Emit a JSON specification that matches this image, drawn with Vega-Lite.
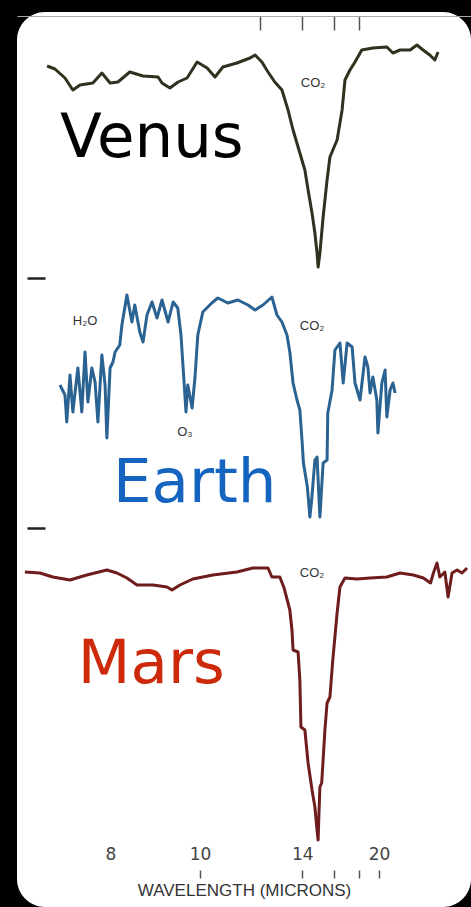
{
  "$schema": "https://vega.github.io/schema/vega-lite/v6.json",
  "width": 454,
  "height": 895,
  "autosize": "none",
  "padding": {"left": 17, "top": 12, "right": 0, "bottom": 0},
  "background": "black",
  "config": {"view": {"fill": "white", "cornerRadius": 28, "stroke": null}},
  "datasets": {
    "spectra": [
      {"planet":"Venus","wn":1427,"v":841},{"planet":"Venus","wn":1405,"v":838},{"planet":"Venus","wn":1377,"v":829},{"planet":"Venus","wn":1355,"v":817},{"planet":"Venus","wn":1335,"v":822},{"planet":"Venus","wn":1299,"v":824},{"planet":"Venus","wn":1274,"v":834},{"planet":"Venus","wn":1251,"v":824},{"planet":"Venus","wn":1229,"v":825},{"planet":"Venus","wn":1196,"v":835},{"planet":"Venus","wn":1159,"v":831},{"planet":"Venus","wn":1117,"v":830},{"planet":"Venus","wn":1106,"v":824},{"planet":"Venus","wn":1084,"v":819},{"planet":"Venus","wn":1061,"v":825},{"planet":"Venus","wn":1036,"v":829},{"planet":"Venus","wn":1008,"v":845},{"planet":"Venus","wn":980,"v":839},{"planet":"Venus","wn":958,"v":830},{"planet":"Venus","wn":936,"v":840},{"planet":"Venus","wn":897,"v":844},{"planet":"Venus","wn":860,"v":849},{"planet":"Venus","wn":846,"v":852},{"planet":"Venus","wn":827,"v":845},{"planet":"Venus","wn":810,"v":835},{"planet":"Venus","wn":791,"v":825},{"planet":"Venus","wn":771,"v":817},{"planet":"Venus","wn":754,"v":797},{"planet":"Venus","wn":740,"v":777},{"planet":"Venus","wn":721,"v":754},{"planet":"Venus","wn":707,"v":737},{"planet":"Venus","wn":698,"v":717},{"planet":"Venus","wn":687,"v":694},{"planet":"Venus","wn":679,"v":674},{"planet":"Venus","wn":673,"v":654},{"planet":"Venus","wn":670,"v":640},{"planet":"Venus","wn":665,"v":654},{"planet":"Venus","wn":656,"v":690},{"planet":"Venus","wn":645,"v":727},{"planet":"Venus","wn":637,"v":750},{"planet":"Venus","wn":617,"v":767},{"planet":"Venus","wn":603,"v":797},{"planet":"Venus","wn":595,"v":827},{"planet":"Venus","wn":581,"v":837},{"planet":"Venus","wn":567,"v":845},{"planet":"Venus","wn":548,"v":857},{"planet":"Venus","wn":517,"v":859},{"planet":"Venus","wn":478,"v":860},{"planet":"Venus","wn":461,"v":854},{"planet":"Venus","wn":441,"v":857},{"planet":"Venus","wn":413,"v":857},{"planet":"Venus","wn":394,"v":862},{"planet":"Venus","wn":377,"v":857},{"planet":"Venus","wn":358,"v":852},{"planet":"Venus","wn":344,"v":847},{"planet":"Venus","wn":335,"v":855},
      {"planet":"Earth","wn":1391,"v":522},{"planet":"Earth","wn":1377,"v":512},{"planet":"Earth","wn":1372,"v":485},{"planet":"Earth","wn":1363,"v":532},{"planet":"Earth","wn":1355,"v":495},{"planet":"Earth","wn":1341,"v":539},{"planet":"Earth","wn":1330,"v":495},{"planet":"Earth","wn":1321,"v":555},{"planet":"Earth","wn":1313,"v":505},{"planet":"Earth","wn":1302,"v":539},{"planet":"Earth","wn":1293,"v":525},{"planet":"Earth","wn":1285,"v":485},{"planet":"Earth","wn":1274,"v":552},{"planet":"Earth","wn":1265,"v":522},{"planet":"Earth","wn":1260,"v":469},{"planet":"Earth","wn":1251,"v":539},{"planet":"Earth","wn":1243,"v":545},{"planet":"Earth","wn":1237,"v":555},{"planet":"Earth","wn":1224,"v":562},{"planet":"Earth","wn":1218,"v":582},{"planet":"Earth","wn":1204,"v":612},{"planet":"Earth","wn":1190,"v":585},{"planet":"Earth","wn":1182,"v":602},{"planet":"Earth","wn":1168,"v":575},{"planet":"Earth","wn":1159,"v":565},{"planet":"Earth","wn":1148,"v":592},{"planet":"Earth","wn":1134,"v":605},{"planet":"Earth","wn":1120,"v":589},{"planet":"Earth","wn":1106,"v":607},{"planet":"Earth","wn":1089,"v":585},{"planet":"Earth","wn":1075,"v":605},{"planet":"Earth","wn":1062,"v":599},{"planet":"Earth","wn":1053,"v":572},{"planet":"Earth","wn":1047,"v":539},{"planet":"Earth","wn":1039,"v":495},{"planet":"Earth","wn":1034,"v":522},{"planet":"Earth","wn":1022,"v":499},{"planet":"Earth","wn":1014,"v":529},{"planet":"Earth","wn":1006,"v":572},{"planet":"Earth","wn":992,"v":595},{"planet":"Earth","wn":967,"v":604},{"planet":"Earth","wn":950,"v":609},{"planet":"Earth","wn":922,"v":604},{"planet":"Earth","wn":894,"v":607},{"planet":"Earth","wn":866,"v":602},{"planet":"Earth","wn":846,"v":597},{"planet":"Earth","wn":824,"v":602},{"planet":"Earth","wn":799,"v":610},{"planet":"Earth","wn":785,"v":592},{"planet":"Earth","wn":771,"v":585},{"planet":"Earth","wn":757,"v":572},{"planet":"Earth","wn":749,"v":555},{"planet":"Earth","wn":740,"v":524},{"planet":"Earth","wn":729,"v":507},{"planet":"Earth","wn":721,"v":497},{"planet":"Earth","wn":715,"v":467},{"planet":"Earth","wn":711,"v":444},{"planet":"Earth","wn":700,"v":420},{"planet":"Earth","wn":693,"v":390},{"planet":"Earth","wn":688,"v":407},{"planet":"Earth","wn":679,"v":447},{"planet":"Earth","wn":673,"v":450},{"planet":"Earth","wn":665,"v":390},{"planet":"Earth","wn":656,"v":444},{"planet":"Earth","wn":645,"v":447},{"planet":"Earth","wn":643,"v":494},{"planet":"Earth","wn":631,"v":517},{"planet":"Earth","wn":623,"v":557},{"planet":"Earth","wn":609,"v":564},{"planet":"Earth","wn":600,"v":524},{"planet":"Earth","wn":589,"v":564},{"planet":"Earth","wn":575,"v":560},{"planet":"Earth","wn":567,"v":524},{"planet":"Earth","wn":553,"v":507},{"planet":"Earth","wn":539,"v":550},{"planet":"Earth","wn":531,"v":540},{"planet":"Earth","wn":525,"v":514},{"planet":"Earth","wn":517,"v":530},{"planet":"Earth","wn":506,"v":507},{"planet":"Earth","wn":503,"v":474},{"planet":"Earth","wn":492,"v":524},{"planet":"Earth","wn":483,"v":537},{"planet":"Earth","wn":478,"v":490},{"planet":"Earth","wn":469,"v":517},{"planet":"Earth","wn":461,"v":524},{"planet":"Earth","wn":455,"v":514},
      {"planet":"Mars","wn":1489,"v":335},{"planet":"Mars","wn":1447,"v":334},{"planet":"Mars","wn":1411,"v":330},{"planet":"Mars","wn":1363,"v":327},{"planet":"Mars","wn":1316,"v":332},{"planet":"Mars","wn":1260,"v":337},{"planet":"Mars","wn":1232,"v":334},{"planet":"Mars","wn":1204,"v":329},{"planet":"Mars","wn":1176,"v":322},{"planet":"Mars","wn":1131,"v":322},{"planet":"Mars","wn":1092,"v":320},{"planet":"Mars","wn":1078,"v":317},{"planet":"Mars","wn":1056,"v":322},{"planet":"Mars","wn":1020,"v":328},{"planet":"Mars","wn":964,"v":332},{"planet":"Mars","wn":897,"v":335},{"planet":"Mars","wn":852,"v":339},{"planet":"Mars","wn":810,"v":339},{"planet":"Mars","wn":799,"v":330},{"planet":"Mars","wn":777,"v":330},{"planet":"Mars","wn":765,"v":319},{"planet":"Mars","wn":749,"v":297},{"planet":"Mars","wn":743,"v":277},{"planet":"Mars","wn":740,"v":257},{"planet":"Mars","wn":726,"v":255},{"planet":"Mars","wn":721,"v":227},{"planet":"Mars","wn":718,"v":180},{"planet":"Mars","wn":707,"v":177},{"planet":"Mars","wn":698,"v":144},{"planet":"Mars","wn":687,"v":117},{"planet":"Mars","wn":679,"v":100},{"planet":"Mars","wn":673,"v":77},{"planet":"Mars","wn":670,"v":67},{"planet":"Mars","wn":668,"v":90},{"planet":"Mars","wn":665,"v":120},{"planet":"Mars","wn":660,"v":124},{"planet":"Mars","wn":651,"v":177},{"planet":"Mars","wn":645,"v":204},{"planet":"Mars","wn":637,"v":210},{"planet":"Mars","wn":629,"v":247},{"planet":"Mars","wn":617,"v":294},{"planet":"Mars","wn":609,"v":320},{"planet":"Mars","wn":595,"v":329},{"planet":"Mars","wn":561,"v":328},{"planet":"Mars","wn":525,"v":329},{"planet":"Mars","wn":478,"v":330},{"planet":"Mars","wn":441,"v":334},{"planet":"Mars","wn":404,"v":332},{"planet":"Mars","wn":376,"v":329},{"planet":"Mars","wn":356,"v":324},{"planet":"Mars","wn":348,"v":334},{"planet":"Mars","wn":338,"v":344},{"planet":"Mars","wn":330,"v":330},{"planet":"Mars","wn":316,"v":335},{"planet":"Mars","wn":307,"v":310},{"planet":"Mars","wn":296,"v":334},{"planet":"Mars","wn":282,"v":337},{"planet":"Mars","wn":268,"v":334},{"planet":"Mars","wn":254,"v":339}
    ],
    "notes": [
      {"t":"CO₂","wn":684,"v":824},
      {"t":"H₂O","wn":1321,"v":586},
      {"t":"O₃","wn":1042,"v":475},
      {"t":"CO₂","wn":687,"v":581},
      {"t":"CO₂","wn":687,"v":334}
    ],
    "names": [
      {"name":"Venus","wn":1391,"v":750},
      {"name":"Earth","wn":1243,"v":405},
      {"name":"Mars","wn":1341,"v":224}
    ]
  },
  "layer": [
    {
      "data": {"name": "spectra"},
      "mark": {"type": "line", "strokeWidth": 3, "strokeJoin": "round"},
      "encoding": {
        "x": {"field": "wn", "type": "quantitative",
          "scale": {"domain": [243, 1511], "reverse": true, "nice": false, "zero": false},
          "axis": {"orient": "top", "offset": -4, "values": [833.33, 714.29, 625, 555.56], "labels": false, "tickSize": -14, "tickColor": "#555", "tickWidth": 1.5, "domainColor": "#aaa", "domainWidth": 1, "title": null, "grid": false}},
        "y": {"field": "v", "type": "quantitative",
          "scale": {"domain": [0, 895], "nice": false, "zero": false},
          "axis": {"orient": "left", "offset": -10, "values": [629, 379], "labels": false, "tickSize": -18, "tickWidth": 2.5, "tickColor": "#222", "domain": false, "grid": false, "title": null}},
        "color": {"field": "planet", "type": "nominal",
          "scale": {"domain": ["Venus", "Earth", "Mars"], "range": ["#2e321f", "#2a6292", "#6e1c1c"]},
          "legend": null}
      }
    },
    {
      "data": {"name": "notes"},
      "mark": {"type": "text", "font": "Liberation Sans", "fontSize": 13, "color": "#333"},
      "encoding": {
        "x": {"field": "wn", "type": "quantitative",
          "scale": {"domain": [243, 1511], "reverse": true, "nice": false, "zero": false},
          "axis": {"orient": "bottom", "offset": -61, "values": [1250, 1000, 714.29, 500], "labelExpr": "'' + round(10000 / datum.value)", "ticks": false, "domain": false, "labelPadding": 0, "labelFontSize": 17, "labelFont": "DejaVu Sans", "labelColor": "#444", "title": null, "grid": false}},
        "y": {"field": "v", "type": "quantitative",
          "scale": {"domain": [0, 895], "nice": false, "zero": false}, "axis": null},
        "text": {"field": "t"}
      }
    },
    {
      "data": {"name": "names"},
      "mark": {"type": "text", "font": "DejaVu Sans", "fontSize": 61, "align": "left", "baseline": "alphabetic"},
      "encoding": {
        "x": {"field": "wn", "type": "quantitative",
          "scale": {"domain": [243, 1511], "reverse": true, "nice": false, "zero": false},
          "axis": {"orient": "bottom", "offset": -37, "values": [1000, 714.29, 625, 555.56, 500], "labels": false, "domain": false, "tickSize": 8, "tickColor": "#555", "tickWidth": 1.5, "title": "WAVELENGTH (MICRONS)", "titleFont": "Liberation Sans", "titleFontSize": 17, "titleFontWeight": "normal", "titleColor": "#333", "titlePadding": 4, "grid": false}},
        "y": {"field": "v", "type": "quantitative",
          "scale": {"domain": [0, 895], "nice": false, "zero": false}, "axis": null},
        "text": {"field": "name"},
        "color": {"field": "name", "type": "nominal",
          "scale": {"domain": ["Venus", "Earth", "Mars"], "range": ["#000000", "#1565c0", "#cc2a0a"]},
          "legend": null}
      }
    }
  ],
  "resolve": {"axis": {"x": "independent", "y": "independent"}, "scale": {"color": "independent"}}
}
